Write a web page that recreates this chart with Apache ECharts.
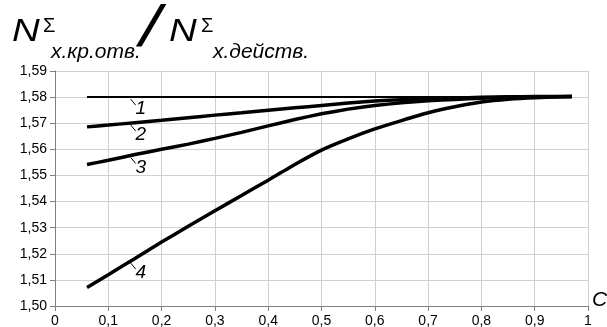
<!DOCTYPE html>
<html><head><meta charset="utf-8">
<script src="https://cdn.jsdelivr.net/npm/echarts@6/dist/echarts.min.js"></script>
<style>html,body{margin:0;padding:0;background:#fff}#c{width:607px;height:327px}</style>
</head><body><div id="c"></div>
<script>
// ---- data ----
const cValues = [0.06, 0.1, 0.15, 0.2, 0.25, 0.3, 0.35, 0.4, 0.45, 0.5, 0.55, 0.6, 0.65, 0.7, 0.75, 0.8, 0.85, 0.9, 0.97];
const curve1C = [0.06, 0.97];
const curve1 = [1.58, 1.58];
const curve2 = [1.5686, 1.5693, 1.5702, 1.5711, 1.5721, 1.5731, 1.5740, 1.5750, 1.5759, 1.5768, 1.5777, 1.5785, 1.5790, 1.5794, 1.5797, 1.5799, 1.5801, 1.5802, 1.5802];
const curve3 = [1.5542, 1.5558, 1.5580, 1.5600, 1.5620, 1.5642, 1.5665, 1.5690, 1.5714, 1.5736, 1.5754, 1.5768, 1.5778, 1.5786, 1.5791, 1.5796, 1.5799, 1.5801, 1.5802];
const curve4 = [1.5071, 1.5120, 1.5182, 1.5245, 1.5305, 1.5365, 1.5423, 1.5482, 1.5542, 1.5597, 1.5640, 1.5678, 1.5710, 1.5740, 1.5763, 1.5781, 1.5792, 1.5798, 1.5802];
const curveNames = ['1', '2', '3', '4'];
const labelC = 0.142;
const xAxisName = 'C';
const xTickLabels = ['0', '0,1', '0,2', '0,3', '0,4', '0,5', '0,6', '0,7', '0,8', '0,9', '1'];
const yTickLabels = ['1,50', '1,51', '1,52', '1,53', '1,54', '1,55', '1,56', '1,57', '1,58', '1,59'];

const FONT = "'Liberation Sans', Arial, sans-serif";
const chart = echarts.init(document.getElementById('c'));

function pairs(xs, ys) { return xs.map((x, i) => [x, ys[i]]); }
const seriesData = [pairs(curve1C, curve1), pairs(cValues, curve2), pairs(cValues, curve3), pairs(cValues, curve4)];

function interp(data, x) {
  for (let i = 0; i < data.length - 1; i++) {
    if (x >= data[i][0] && x <= data[i + 1][0]) {
      const t = (x - data[i][0]) / (data[i + 1][0] - data[i][0]);
      return data[i][1] + t * (data[i + 1][1] - data[i][1]);
    }
  }
  return data[0][1];
}

chart.setOption({
  animation: false,
  backgroundColor: '#fff',
  grid: { left: 55, right: 19, top: 71, bottom: 21, containLabel: false, outerBoundsMode: 'none' },
  xAxis: {
    type: 'value', min: 0, max: 1, interval: 0.1,
    axisLine: { show: true, lineStyle: { color: '#808080', width: 1 } },
    axisTick: { show: true, length: 5, lineStyle: { color: '#808080' } },
    axisLabel: { fontFamily: FONT, fontSize: 14, color: '#000', margin: 8,
      formatter: v => xTickLabels[Math.round(v * 10)] },
    splitLine: { show: true, lineStyle: { color: '#d0d0d0', width: 1 } }
  },
  yAxis: {
    type: 'value', min: 1.50, max: 1.59, interval: 0.01,
    axisLine: { show: true, lineStyle: { color: '#808080', width: 1 } },
    axisTick: { show: true, length: 5, lineStyle: { color: '#808080' } },
    axisLabel: { fontFamily: FONT, fontSize: 14, color: '#000', margin: 8,
      formatter: v => yTickLabels[Math.round((v - 1.5) * 100)] },
    splitLine: { show: true, lineStyle: { color: '#d0d0d0', width: 1 } }
  },
  series: seriesData.map((d, i) => ({
    type: 'line', data: d, showSymbol: false, symbol: 'none', smooth: 0.15,
    lineStyle: { color: '#000', width: i === 0 ? 2 : 3.5 }, z: 3
  }))
});

// title and curve labels
const titleEls = [
  { text: 'N', x: 12, y: 16, font: 'italic 32px ' + FONT, sx: 1.2 },
  { text: 'Σ', x: 43, y: 16, font: '20px ' + FONT, sx: 1 },
  { text: 'х.кр.отв.', x: 51, y: 42, font: 'italic 21px ' + FONT, sx: 1 },
  { text: '/', x: 140, y: 1, font: 'italic 58px ' + FONT, sx: 1.25 },
  { text: 'N', x: 169, y: 16, font: 'italic 32px ' + FONT, sx: 1.2 },
  { text: 'Σ', x: 201, y: 16, font: '20px ' + FONT, sx: 1 },
  { text: 'х.действ.', x: 213, y: 42, font: 'italic 21px ' + FONT, sx: 1 }
];
const graphics = titleEls.map(t => ({
  type: 'text', x: t.x, y: t.y, scaleX: t.sx, silent: true,
  style: { text: t.text, font: t.font, fill: '#000', textAlign: 'left', textVerticalAlign: 'top' }
}));
const axisEnd = chart.convertToPixel({ gridIndex: 0 }, [1, 1.50]);
graphics.push({ type: 'text', silent: true, x: axisEnd[0] + 4, y: axisEnd[1] - 6,
  style: { text: xAxisName, font: 'italic 21px ' + FONT, fill: '#000', textAlign: 'left', textVerticalAlign: 'middle' } });
seriesData.forEach((d, i) => {
  const p = chart.convertToPixel({ gridIndex: 0 }, [labelC, interp(d, labelC)]);
  graphics.push({ type: 'line', silent: true,
    shape: { x1: p[0], y1: p[1] + 2, x2: p[0] + 5, y2: p[1] + 8 },
    style: { stroke: '#000', lineWidth: 1 } });
  graphics.push({ type: 'text', silent: true, x: p[0] + 10, y: p[1] + 12,
    style: { text: curveNames[i], font: 'italic 19px ' + FONT, fill: '#000', textAlign: 'center', textVerticalAlign: 'middle' } });
});
chart.setOption({ graphic: graphics });
</script>
</body></html>
